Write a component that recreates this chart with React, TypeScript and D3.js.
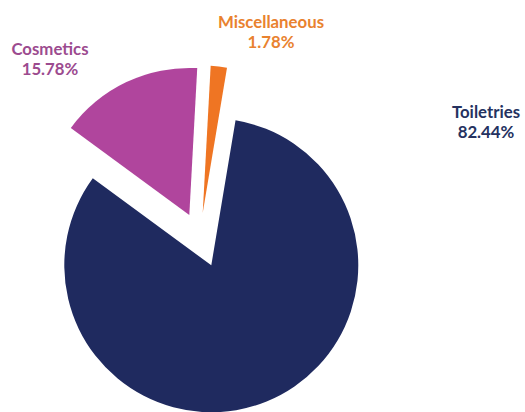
import React from "react";
import * as d3 from "d3";

const categories = ["Toiletries", "Cosmetics", "Miscellaneous"];
const values = [82.44, 15.78, 1.78];
const percentLabels = ["82.44%", "15.78%", "1.78%"];

const sliceColors = ["#1f2a5f", "#b0459d", "#ef7523"];
const labelColors = ["#25325f", "#9c4b8f", "#e9822f"];
const explode = [30, 25, 25];
const labelPos: [number, number][] = [
  [486, 118],
  [50, 55],
  [271, 28],
];

const W = 525;
const H = 412;
const CX = 200;
const CY = 237.5;
const R = 147;
const START = (9.5 * Math.PI) / 180;

export default function App() {
  const data = categories.map((c, i) => ({ c, v: values[i], i }));
  const pie = d3
    .pie<any>()
    .sort(null)
    .value((d) => d.v)
    .startAngle(START)
    .endAngle(START + 2 * Math.PI);
  const arcs = pie(data);
  const arc = d3.arc<any>().innerRadius(0).outerRadius(R);

  return (
    <svg
      width={W}
      height={H}
      style={{ position: "absolute", left: 0, top: 0, background: "#fff" }}
    >
      <g transform={`translate(${CX},${CY})`}>
        {arcs.map((a, i) => {
          const mid = (a.startAngle + a.endAngle) / 2;
          const dx = Math.sin(mid) * explode[i];
          const dy = -Math.cos(mid) * explode[i];
          return (
            <path
              key={i}
              d={arc(a) as string}
              fill={sliceColors[i]}
              transform={`translate(${dx},${dy})`}
            />
          );
        })}
      </g>
      {categories.map((c, i) => (
        <text
          key={c}
          x={labelPos[i][0]}
          y={labelPos[i][1]}
          textAnchor="middle"
          fill={labelColors[i]}
          style={{ fontFamily: "Lato, 'Liberation Sans', sans-serif", fontWeight: 700, fontSize: 16.8 }}
        >
          <tspan x={labelPos[i][0]}>{c}</tspan>
          <tspan x={labelPos[i][0]} dy={19.5}>
            {percentLabels[i]}
          </tspan>
        </text>
      ))}
    </svg>
  );
}
